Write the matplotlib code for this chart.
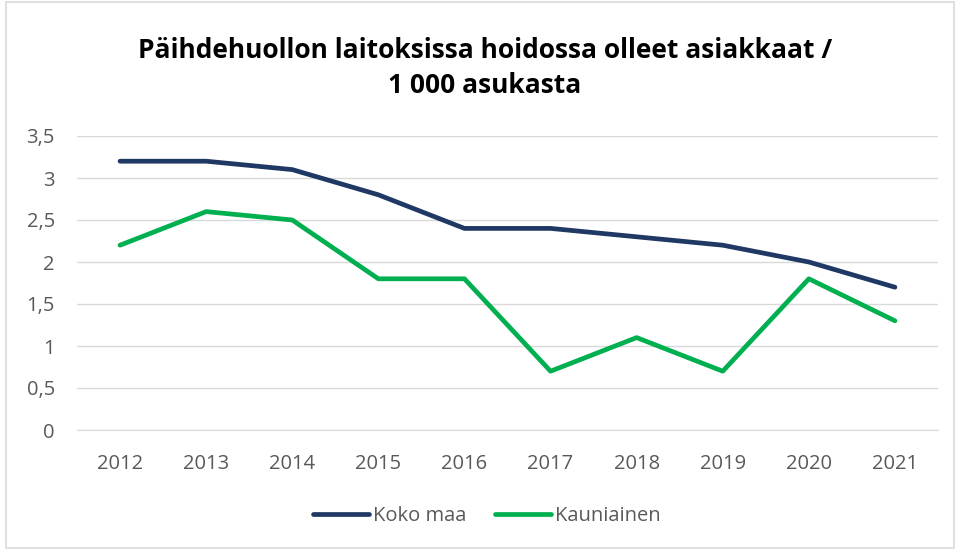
import matplotlib
matplotlib.use("Agg")
import matplotlib.pyplot as plt
from matplotlib.patches import Rectangle
from matplotlib.ticker import FuncFormatter

years = ["2012", "2013", "2014", "2015", "2016", "2017", "2018", "2019", "2020", "2021"]
koko_maa = [3.2, 3.2, 3.1, 2.8, 2.4, 2.4, 2.3, 2.2, 2.0, 1.7]
kauniainen = [2.2, 2.6, 2.5, 1.8, 1.8, 0.7, 1.1, 0.7, 1.8, 1.3]
title = "Päihdehuollon laitoksissa hoidossa olleet asiakkaat /\n1 000 asukasta"

plt.rcParams['font.family'] = ['Open Sans', 'DejaVu Sans']

fig = plt.figure(figsize=(9.6, 5.52), dpi=100)
fig.patches.append(Rectangle((6/960, 4/552), 948/960, 546/552, transform=fig.transFigure,
                             fill=False, edgecolor="#d9d9d9", linewidth=1.2))
ax = fig.add_axes([77/960, (552-430)/552, (938-77)/960, (430-136)/552])

x = list(range(len(years)))
ax.plot(x, koko_maa, color="#203864", linewidth=3.4, solid_capstyle="round", label="Koko maa")
ax.plot(x, kauniainen, color="#00b050", linewidth=3.4, solid_capstyle="round", label="Kauniainen")

ax.set_xlim(-0.5, len(years) - 0.5)
ax.set_ylim(0, 3.5)
ax.set_yticks([0, 0.5, 1, 1.5, 2, 2.5, 3, 3.5])
ax.yaxis.set_major_formatter(FuncFormatter(lambda v, p: ("%g" % v).replace(".", ",")))
ax.set_xticks(x)
ax.set_xticklabels(years)
ax.grid(axis="y", color="#d9d9d9", linewidth=1)
ax.set_axisbelow(True)
for s in ["top", "right", "left"]:
    ax.spines[s].set_visible(False)
ax.spines["bottom"].set_color("#d9d9d9")
ax.tick_params(axis="both", length=0, labelsize=14.5, labelcolor="#595959")
ax.tick_params(axis="y", pad=16)
ax.tick_params(axis="x", pad=17)

fig.text(485/960, 1 - 68/552, title, ha="center", va="center", fontsize=19, fontweight="bold",
         color="#000000", linespacing=1.35)

leg = fig.legend(loc="center", bbox_to_anchor=(487/960, 1 - 516/552), ncol=2, frameon=False,
                 fontsize=14.5, handlelength=2.8, columnspacing=1.4, handletextpad=0.2)
for t in leg.get_texts():
    t.set_color("#595959")

fig.savefig("out.png", dpi=100)
